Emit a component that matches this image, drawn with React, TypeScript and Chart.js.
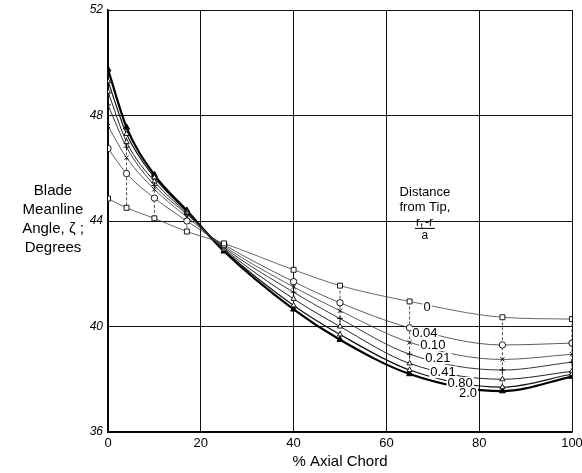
import React, { useEffect, useRef } from "react";
import { Chart, registerables } from "chart.js";

Chart.register(...registerables);

const axialChord = [0, 4, 10, 17, 25, 40, 50, 65, 85, 100];
const tipDistances = ["0", "0.04", "0.10", "0.21", "0.41", "0.80", "2.0"];

const angle0 = [44.85, 44.5, 44.1, 43.6, 43.15, 42.15, 41.55, 40.95, 40.35, 40.28];
const angle004 = [46.75, 45.8, 44.87, 44.0, 43.1, 41.7, 40.9, 39.95, 39.3, 39.37];
const angle010 = [47.6, 46.4, 45.2, 44.15, 43.05, 41.5, 40.6, 39.4, 38.75, 38.95];
const angle021 = [48.4, 46.8, 45.35, 44.25, 43.0, 41.3, 40.3, 38.95, 38.35, 38.65];
const angle041 = [48.9, 47.0, 45.5, 44.3, 42.95, 41.05, 40.0, 38.6, 38.0, 38.3];
const angle080 = [49.3, 47.3, 45.65, 44.35, 42.9, 40.8, 39.7, 38.35, 37.7, 38.2];
const angle20 = [49.75, 47.55, 45.75, 44.4, 42.85, 40.65, 39.5, 38.2, 37.55, 38.1];

const xTicks = [0, 20, 40, 60, 80, 100];
const yTicks = [36, 40, 44, 48, 52];

// series label anchor points in data units [x, y]
const labelAnchors: [number, number][] = [
  [68.8, 40.74],
  [68.3, 39.75],
  [70.0, 39.3],
  [71.1, 38.8],
  [72.2, 38.27],
  [75.9, 37.86],
  [77.6, 37.48],
];

const FONT = "'Liberation Sans', Arial, sans-serif";

export default function App() {
  const ref = useRef<HTMLCanvasElement | null>(null);

  useEffect(() => {
    document.body.style.margin = "0";
    const canvas = ref.current;
    if (!canvas) return;

    const seriesValues = [angle0, angle004, angle010, angle021, angle041, angle080, angle20];
    const styles = [
      { ps: "rect", r: 3.5, fill: "#fff", lw: 0.8, color: "#444" },
      { ps: "circle", r: 3.2, fill: "#fff", lw: 0.8, color: "#333" },
      { ps: "crossRot", r: 3, fill: "#fff", lw: 0.8, color: "#333" },
      { ps: "cross", r: 3, fill: "#fff", lw: 0.9, color: "#222" },
      { ps: "triangle", r: 3, fill: "#fff", lw: 1, color: "#222" },
      { ps: "triangle", r: 3, fill: "#fff", lw: 1.2, color: "#111" },
      { ps: "triangle", r: 3.5, fill: "#000", lw: 2.2, color: "#000" },
    ];

    const datasets = seriesValues.map((vals, i) => ({
      label: tipDistances[i],
      data: vals.map((v, j) => ({ x: axialChord[j], y: v })),
      borderColor: styles[i].color,
      borderWidth: styles[i].lw,
      pointStyle: styles[i].ps as any,
      pointRadius: styles[i].r,
      pointBackgroundColor: styles[i].fill,
      pointBorderColor: "#000",
      pointBorderWidth: 0.9,
      cubicInterpolationMode: "monotone" as const,
      fill: false,
    }));

    const overlay = {
      id: "overlay",
      beforeDatasetsDraw(chart: any) {
        const { ctx, scales } = chart;
        const xs = scales.x;
        const ys = scales.y;
        ctx.save();
        ctx.strokeStyle = "#222";
        ctx.lineWidth = 0.8;
        ctx.setLineDash([3, 2]);
        axialChord.forEach((xv, j) => {
          const col = seriesValues.map((s) => s[j]);
          const lo = Math.min(...col);
          const hi = Math.max(...col);
          const px = xs.getPixelForValue(xv);
          ctx.beginPath();
          ctx.moveTo(px, ys.getPixelForValue(hi));
          ctx.lineTo(px, ys.getPixelForValue(lo));
          ctx.stroke();
        });
        ctx.restore();
      },
      afterDatasetsDraw(chart: any) {
        const { ctx, scales, chartArea } = chart;
        const xs = scales.x;
        const ys = scales.y;
        ctx.save();
        ctx.fillStyle = "#000";
        ctx.textAlign = "center";
        ctx.textBaseline = "middle";
        // series labels
        ctx.font = `13px ${FONT}`;
        labelAnchors.forEach(([lx, ly], i) => {
          const px = xs.getPixelForValue(lx);
          const py = ys.getPixelForValue(ly);
          const w = ctx.measureText(tipDistances[i]).width;
          ctx.fillStyle = "#fff";
          ctx.fillRect(px - w / 2 - 1, py - 6, w + 2, 12);
          ctx.fillStyle = "#000";
          ctx.fillText(tipDistances[i], px, py);
        });
        // annotation
        const cx = xs.getPixelForValue(68.3);
        ctx.font = `13px ${FONT}`;
        ctx.fillText("Distance", cx, ys.getPixelForValue(45.08));
        ctx.fillText("from Tip,", cx, ys.getPixelForValue(44.5));
        ctx.font = `12px ${FONT}`;
        const ry = ys.getPixelForValue(43.92);
        ctx.fillText("r", cx - 7, ry);
        ctx.font = `8px ${FONT}`;
        ctx.fillText("t", cx - 3, ry + 3);
        ctx.font = `12px ${FONT}`;
        ctx.fillText("-r", cx + 4, ry);
        const by = ys.getPixelForValue(43.72);
        ctx.lineWidth = 1;
        ctx.strokeStyle = "#000";
        ctx.beginPath();
        ctx.moveTo(cx - 10, by);
        ctx.lineTo(cx + 10, by);
        ctx.stroke();
        ctx.fillText("a", cx, ys.getPixelForValue(43.45));

        // axis titles
        ctx.font = `15px ${FONT}`;
        ctx.fillText("% Axial Chord", (chartArea.left + chartArea.right) / 2, 462);
        const tx = 53;
        ctx.fillText("Blade", tx, 191);
        ctx.fillText("Meanline", tx, 210);
        ctx.fillText("Angle, \u03b6 ;", tx, 229);
        ctx.fillText("Degrees", tx, 248);
        ctx.restore();
      },
    };

    const chart = new Chart(canvas, {
      type: "line",
      data: { datasets },
      options: {
        animation: false,
        responsive: false,
        maintainAspectRatio: false,
        layout: { padding: { top: 10, right: 0, left: 0, bottom: 0 } },
        plugins: { legend: { display: false }, tooltip: { enabled: false } },
        scales: {
          x: {
            type: "linear",
            min: 0,
            max: 100,
            afterBuildTicks: (s: any) => {
              s.ticks = xTicks.map((v) => ({ value: v }));
            },
            afterFit: (s: any) => {
              s.height = 41;
              s.paddingRight = 10;
              s.paddingLeft = 0;
            },
            grid: { color: "#111", lineWidth: 1, drawTicks: false },
            border: { color: "#000", width: 1.5 },
            ticks: {
              color: "#000",
              padding: 4,
              maxRotation: 0,
              font: { family: FONT, size: 13 },
            },
          },
          y: {
            type: "linear",
            min: 36,
            max: 52,
            afterBuildTicks: (s: any) => {
              s.ticks = yTicks.map((v) => ({ value: v }));
            },
            afterFit: (s: any) => {
              s.width = 108;
              s.paddingTop = 0;
              s.paddingBottom = 0;
            },
            grid: { color: "#111", lineWidth: 1, drawTicks: false },
            border: { color: "#000", width: 1.5 },
            ticks: {
              color: "#000",
              padding: 5,
              font: { family: FONT, size: 12, style: "italic" },
            },
          },
        },
      },
      plugins: [overlay],
    });

    return () => chart.destroy();
  }, []);

  return (
    <div style={{ width: 582, height: 473 }}>
      <canvas ref={ref} width={582} height={473} style={{ display: "block" }} />
    </div>
  );
}
